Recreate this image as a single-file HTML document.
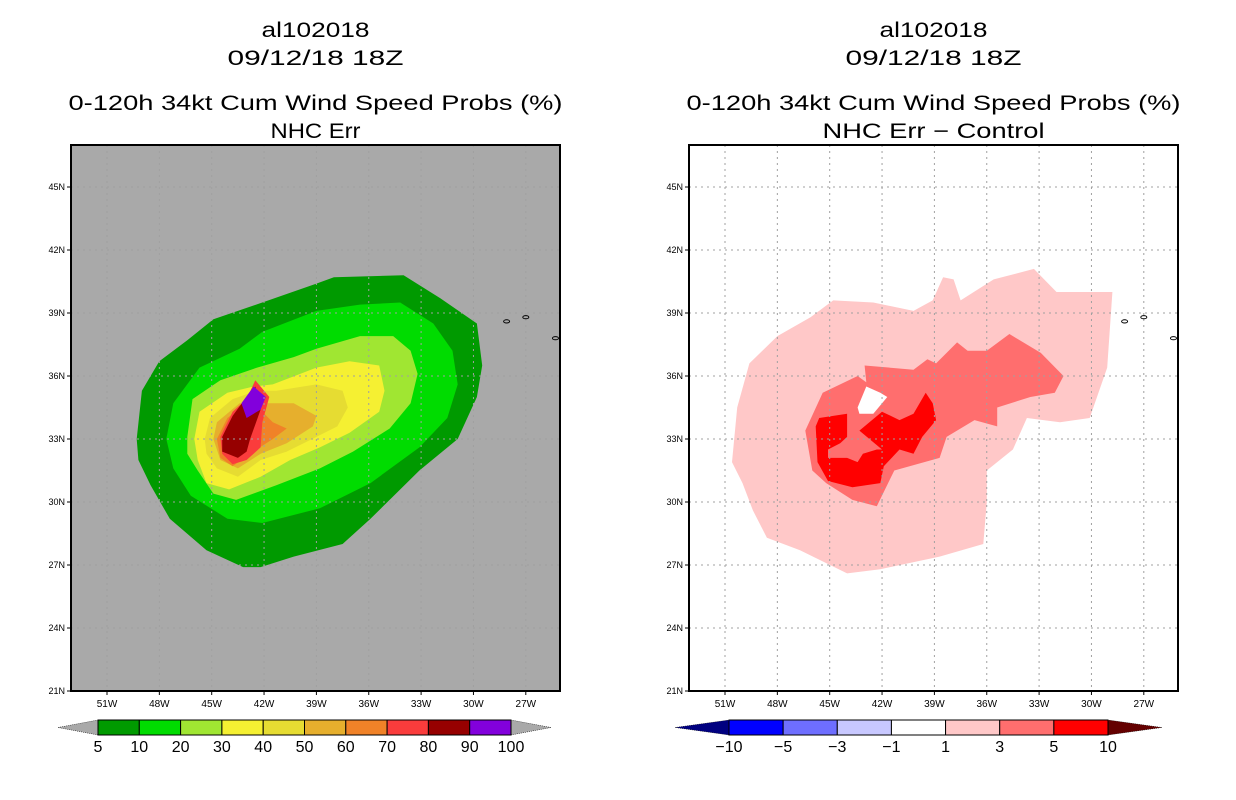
<!DOCTYPE html>
<html><head><meta charset="utf-8"><style>
html,body{margin:0;padding:0;background:#fff;}
svg{display:block;font-family:"Liberation Sans",sans-serif;}
</style></head><body>
<svg id="root" width="1236" height="800" viewBox="0 0 1236 800" xmlns="http://www.w3.org/2000/svg"></svg>
<script>
// ---- data ----
const latTicks = [21,24,27,30,33,36,39,42,45];
const lonTicks = [-51,-48,-45,-42,-39,-36,-33,-30,-27];
const probLevels = [5,10,20,30,40,50,60,70,80,90,100];
const probColors = ["#009a00","#00dc00","#a0e632","#f5f032","#e6dc32","#e6af2d","#f08228","#fa3c3c","#960000","#8200dc"];
const diffLevels = [-10,-5,-3,-1,1,3,5,10];
const diffColors = ["#0000ff","#6e6eff","#c8c8ff","#ffffff","#ffc8c8","#ff6e6e","#ff0000"];
const p5 = [[-49.3,33.0],[-49.0,35.3],[-48.0,36.7],[-46.4,37.7],[-44.9,38.7],[-42.1,39.5],[-39.0,40.4],[-38.0,40.7],[-34.0,40.8],[-31.9,39.7],[-29.8,38.5],[-29.5,36.5],[-29.8,35.0],[-30.9,33.0],[-33.1,31.5],[-35.9,29.2],[-37.5,28.0],[-40.3,27.4],[-42.2,26.9],[-43.2,26.9],[-45.3,27.7],[-47.4,29.2],[-48.5,30.8],[-49.2,32.0]];
const p10 = [[-47.6,33.0],[-47.2,34.7],[-45.7,36.4],[-43.4,37.3],[-42.1,38.1],[-39.0,39.1],[-36.5,39.4],[-34.2,39.5],[-32.3,38.5],[-31.2,37.2],[-30.9,35.6],[-31.5,34.0],[-33.1,32.6],[-35.9,30.9],[-38.8,29.7],[-42.1,29.0],[-44.1,29.2],[-46.2,30.3],[-47.2,31.6]];
const p20 = [[-46.4,33.1],[-46.1,34.9],[-44.5,35.8],[-42.4,36.4],[-40.3,36.9],[-39.0,37.3],[-36.5,37.9],[-34.6,37.9],[-33.6,37.2],[-33.2,36.1],[-33.6,34.7],[-34.8,33.5],[-36.9,32.4],[-38.8,31.6],[-41.3,30.8],[-43.6,30.1],[-44.9,30.4],[-45.8,31.5],[-46.4,32.3]];
const p30 = [[-46.0,33.0],[-45.7,34.3],[-44.1,35.2],[-42.6,35.5],[-41.5,35.6],[-39.0,36.4],[-37.1,36.7],[-35.4,36.5],[-35.1,35.3],[-35.4,34.3],[-37.1,33.3],[-38.8,32.6],[-40.5,32.0],[-42.2,31.2],[-44.0,30.6],[-45.3,30.9],[-45.8,32.0]];
const p40 = [[-45.4,33.0],[-45.1,34.0],[-43.8,34.9],[-42.4,35.3],[-41.3,35.3],[-39.0,35.6],[-37.5,35.3],[-37.2,34.5],[-37.8,33.6],[-39.0,33.1],[-40.7,32.4],[-42.2,32.0],[-43.5,31.2],[-44.7,31.6],[-45.3,32.3]];
const p50 = [[-44.9,33.0],[-44.7,33.8],[-43.4,34.7],[-42.2,34.7],[-40.3,34.7],[-39.0,34.1],[-39.2,33.6],[-40.7,32.8],[-42.2,32.3],[-43.5,31.6],[-44.5,32.0]];
const p60 = [[-44.7,33.0],[-44.1,34.0],[-43.0,34.7],[-42.1,34.3],[-41.5,33.8],[-40.7,33.5],[-41.5,33.0],[-42.8,32.3],[-43.8,31.7],[-44.5,32.1]];
const p70 = [[-44.5,33.1],[-43.8,34.3],[-43.0,34.9],[-42.5,35.8],[-41.7,35.0],[-42.1,33.8],[-42.2,32.6],[-43.0,32.0],[-43.8,31.8],[-44.4,32.3]];
const p80 = [[-44.4,33.1],[-43.8,34.1],[-43.1,34.9],[-42.5,35.5],[-42.2,34.4],[-42.8,33.0],[-43.0,32.4],[-43.5,32.1],[-44.4,32.4]];
const p90 = [[-43.3,34.7],[-42.6,35.5],[-41.9,35.0],[-42.2,34.4],[-43.0,34.0]];
const d1 = [[-50.6,31.9],[-50.3,34.5],[-49.6,36.6],[-48.0,37.9],[-46.1,38.8],[-44.8,39.6],[-42.5,39.5],[-40.2,39.1],[-39.1,39.6],[-38.5,40.7],[-37.9,40.6],[-37.5,39.6],[-35.6,40.6],[-33.3,41.1],[-32.0,40.0],[-28.8,40.0],[-29.1,36.4],[-30.1,34.0],[-31.8,33.8],[-33.7,34.0],[-34.5,32.5],[-36.0,31.5],[-36.0,30.0],[-36.2,28.0],[-38.7,27.4],[-42.1,26.8],[-44.0,26.6],[-46.7,27.7],[-48.6,28.3],[-49.4,29.6],[-50.0,30.9]];
const d3 = [[-46.4,33.4],[-45.4,35.2],[-43.4,36.0],[-42.9,35.7],[-43.0,36.5],[-40.2,36.3],[-39.4,36.8],[-38.9,36.6],[-37.7,37.6],[-37.1,37.2],[-36.0,37.2],[-34.7,38.0],[-32.9,37.1],[-31.6,36.0],[-32.1,35.2],[-33.5,35.0],[-35.4,34.5],[-35.4,33.6],[-36.7,33.9],[-38.3,33.1],[-38.7,32.1],[-41.3,31.5],[-42.3,29.8],[-43.7,30.1],[-45.2,30.9],[-46.0,31.5]];
const dHole = [[-43.4,34.5],[-42.9,35.5],[-42.1,35.2],[-41.7,35.0],[-42.5,34.2],[-43.3,34.2]];
const d5 = [[-45.8,33.6],[-45.6,34.0],[-44.0,34.2],[-44.0,33.1],[-44.4,32.8],[-45.1,32.5],[-45.1,32.1],[-44.0,32.1],[-43.4,31.9],[-43.1,32.3],[-42.3,32.5],[-42.0,32.5],[-43.3,33.4],[-42.0,34.3],[-41.0,33.9],[-40.2,34.2],[-39.5,35.2],[-39.1,34.7],[-38.9,33.9],[-39.7,33.1],[-40.2,32.3],[-41.0,32.5],[-41.9,31.7],[-42.1,30.9],[-43.7,30.7],[-45.1,31.0],[-45.7,31.9]];
const islands = [[-28.1,38.6],[-27.0,38.8],[-25.3,37.8]];

// ---- drawing ----
const NS="http://www.w3.org/2000/svg";
const root=document.getElementById('root');
function el(tag,attrs,parent){const e=document.createElementNS(NS,tag);for(const k in attrs)e.setAttribute(k,attrs[k]);(parent||root).appendChild(e);return e;}
const X0=71,X1=560,Y0=145,Y1=691;
function xs(lon,off){return off+107+(lon+51)*17.45;}
function ys(lat){return 691-(lat-21)*21;}
function pts(arr,off){return arr.map(p=>xs(p[0],off).toFixed(1)+','+ys(p[1]).toFixed(1)).join(' ');}

function panel(off,bg,title2,w2,name){
  const g=el('g',{});
  
  
  const cx=off+(X0+X1)/2;
  const t=[["al102018",37,108,"title-storm-id"],["09/12/18 18Z",65,176,"title-date"],["0-120h 34kt Cum Wind Speed Probs (%)",110,494,"title-product"],[title2,138,w2,"title-subtitle"]];
  t.forEach(a=>{const e=el('text',{x:cx,y:a[1],'text-anchor':'middle','font-size':21,fill:'#000',textLength:a[2],lengthAdjust:'spacingAndGlyphs'},g);e.textContent=a[0];
    });
  const r=el('rect',{x:off+X0,y:Y0,width:X1-X0,height:Y1-Y0,fill:bg},g);
  
  return g;
}
function poly(g,arr,off,fill,name){const p=el('polygon',{points:pts(arr,off),fill:fill},g);
  }
function grid(g,off){
  lonTicks.forEach(l=>{const x=xs(l,off);const e=el('line',{x1:x,x2:x,y1:Y0,y2:Y1,stroke:'#a0a0a0','stroke-width':1,'stroke-dasharray':'2,4'},g);
    });
  latTicks.slice(1).forEach(l=>{const y=ys(l);const e=el('line',{x1:off+X0,x2:off+X1,y1:y,y2:y,stroke:'#a0a0a0','stroke-width':1,'stroke-dasharray':'2,4'},g);
    });
}
function axes(g,off){
  islands.forEach(p=>{const e=el('ellipse',{cx:xs(p[0],off),cy:ys(p[1]),rx:3,ry:1.6,fill:'none',stroke:'#000','stroke-width':1},g);
    });
  const f=el('rect',{x:off+X0,y:Y0,width:X1-X0,height:Y1-Y0,fill:'none',stroke:'#000','stroke-width':2},g);
  
  latTicks.forEach(l=>{const y=ys(l);el('line',{x1:off+X0-4,x2:off+X0,y1:y,y2:y,stroke:'#000'},g);
    const e=el('text',{x:off+X0-6,y:y+3,'text-anchor':'end','font-size':9},g);e.textContent=l+'N';
    });
  lonTicks.forEach(l=>{const x=xs(l,off);el('line',{x1:x,x2:x,y1:Y1,y2:Y1+4,stroke:'#000'},g);
    const e=el('text',{x:x,y:Y1+16,'text-anchor':'middle','font-size':10},g);e.textContent=(-l)+'W';
    });
}
function colorbar(g,x0,x1,tri,levels,colors,lc,rc,name){
  const cb=el('g',{},g);
  const y=720,h=15,n=colors.length,w=(x1-x0)/n;
  el('polygon',{points:`${x0-tri},${y+h/2} ${x0},${y} ${x0},${y+h}`,fill:lc,stroke:'#000','stroke-width':0.5,'stroke-dasharray':'1,1'},cb);
  el('polygon',{points:`${x1+tri},${y+h/2} ${x1},${y} ${x1},${y+h}`,fill:rc,stroke:'#000','stroke-width':0.5,'stroke-dasharray':'1,1'},cb);
  colors.forEach((c,i)=>{const r=el('rect',{x:x0+i*w,y:y,width:w,height:h,fill:c,stroke:'#000','stroke-width':1},cb);
    });
  levels.forEach((v,i)=>{const t=el('text',{x:x0+i*w,y:y+h+17,'text-anchor':'middle','font-size':16},cb);t.textContent=String(v).replace('-','\u2212');
    });
}

// left panel
const gL=panel(0,'#a9a9a9','NHC Err',90,'left-panel');
[p5,p10,p20,p30,p40,p50,p60,p70,p80,p90].forEach((a,i)=>poly(gL,a,0,probColors[i],'prob-contour-'+probLevels[i]));
grid(gL,0);
axes(gL,0);
colorbar(gL,98,511,40,probLevels,probColors,'#a9a9a9','#a9a9a9','prob-colorbar');

// right panel
const OFF=618;
const gR=panel(OFF,'#ffffff','NHC Err \u2212 Control',222,'right-panel');
poly(gR,d1,OFF,diffColors[4],'diff-contour-1');
poly(gR,d3,OFF,diffColors[5],'diff-contour-3');
poly(gR,dHole,OFF,diffColors[3],'diff-hole');
poly(gR,d5,OFF,diffColors[6],'diff-contour-5');
grid(gR,OFF);
axes(gR,OFF);
colorbar(gR,729,1108,54,diffLevels,diffColors,'#000080','#640000','diff-colorbar');
</script>
</body></html>
